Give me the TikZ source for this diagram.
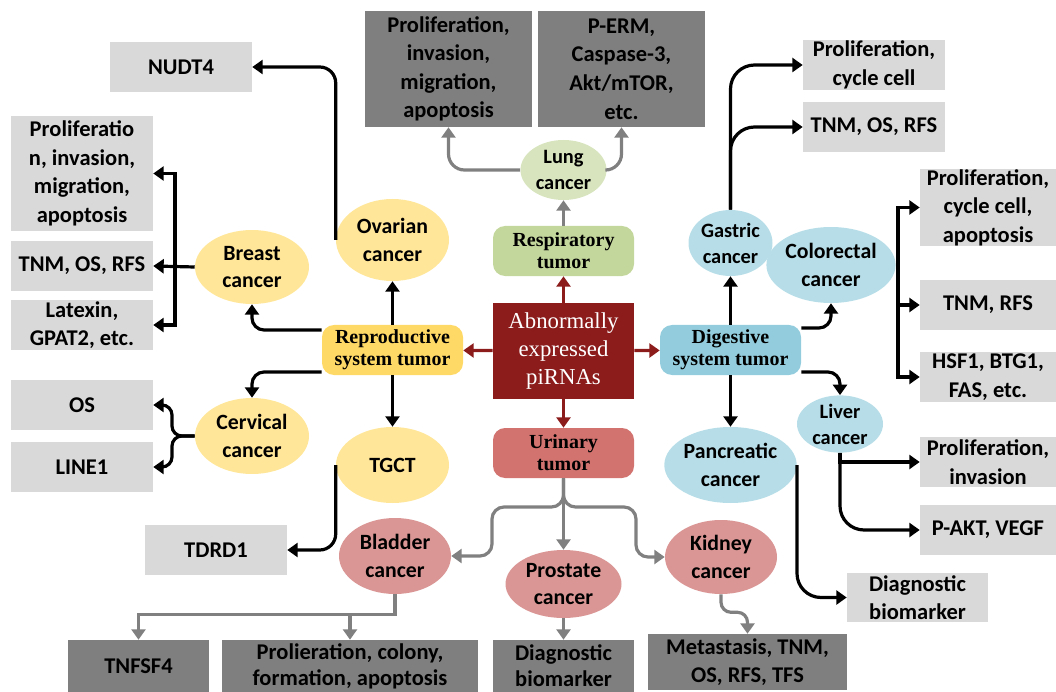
\documentclass[tikz,border=0pt]{standalone}
\usepackage{fontspec}
\setmainfont{Liberation Serif}
\newfontfamily\carlito{Carlito}
\usetikzlibrary{shapes.geometric,arrows.meta}

\definecolor{lgrey}{HTML}{D9D9D9}
\definecolor{dgrey}{HTML}{7F7F7F}
\definecolor{garr}{HTML}{808080}
\definecolor{pirna}{HTML}{8C1C1C}
\definecolor{repy}{HTML}{FFD966}
\definecolor{yell}{HTML}{FFE699}
\definecolor{resg}{HTML}{C3D69B}
\definecolor{lungg}{HTML}{D7E4BD}
\definecolor{urin}{HTML}{D27370}
\definecolor{rell}{HTML}{DA9694}
\definecolor{digb}{HTML}{93CDDD}
\definecolor{bell}{HTML}{B7DEE8}

\tikzset{
	lbox/.style={fill=lgrey, inner sep=0pt, align=center, font=\carlito\bfseries\fontsize{16}{20.3}\selectfont},
	dbox/.style={lbox, fill=dgrey},
	ell/.style={ellipse, inner sep=0pt, align=center, font=\carlito\bfseries\fontsize{15.5}{19.5}\selectfont},
	sell/.style={ell, font=\carlito\bfseries\fontsize{14.5}{18.5}\selectfont},
	tum/.style={rounded corners=3mm, inner sep=0pt, align=center, minimum width=35.25mm, minimum height=12.5mm, font=\bfseries\fontsize{14.2}{15.7}\selectfont},
	barrow/.style={draw=black, line width=0.8mm, -{Triangle[width=3.5mm,length=2.6mm]}},
	garrow/.style={barrow, draw=garr, -{Triangle[width=3.5mm,length=2.6mm,fill=garr]}},
	rarrow/.style={barrow, draw=pirna, -{Triangle[width=3.5mm,length=2.6mm,fill=pirna]}}
}

\begin{document}
\begin{tikzpicture}[x=0.25mm, y=-0.25mm]
	\useasboundingbox (0,0) rectangle (1056,692);

	% center and the four tumor groups
	\node (pi) at (563.5,351) [fill=pirna, text=white, inner sep=0pt, minimum width=35.25mm, minimum height=24mm, align=center, font=\fontsize{16.2}{20}\selectfont] {Abnormally\\expressed\\piRNAs};
	\node (resp) at (563.5,251) [tum, fill=resg] {Respiratory\\tumor};
	\node (repro) at (392.5,350) [tum, fill=repy] {Reproductive\\system tumor};
	\node (urin) at (563.5,453) [tum, fill=urin] {Urinary\\tumor};
	\node (dig) at (730.5,350) [tum, fill=digb] {Digestive\\system tumor};

	% cancers
	\node (lung) at (563.5,170) [sell, fill=lungg, minimum width=21.5mm, minimum height=15mm] {Lung\\cancer};
	\node (breast) at (252,267) [ell, fill=yell, minimum width=28.5mm, minimum height=18.5mm] {Breast\\cancer};
	\node (ovar) at (392.5,240) [ell, fill=yell, minimum width=28.25mm, minimum height=20.5mm] {Ovarian\\cancer};
	\node (cerv) at (252,436) [ell, fill=yell, minimum width=28.5mm, minimum height=19mm] {Cervical\\cancer};
	\node (tgct) at (392.5,465) [ell, fill=yell, minimum width=28.25mm, minimum height=19mm] {TGCT};
	\node (blad) at (395,556) [ell, fill=rell, minimum width=28mm, minimum height=19mm] {Bladder\\cancer};
	\node (prost) at (563.5,584) [ell, fill=rell, minimum width=29mm, minimum height=17mm] {Prostate\\cancer};
	\node (kid) at (721,557) [ell, fill=rell, minimum width=28mm, minimum height=18.5mm] {Kidney\\cancer};
	\node (gast) at (730.5,243) [sell, fill=bell, minimum width=21mm, minimum height=16.5mm] {Gastric\\cancer};
	\node (colo) at (831,265) [ell, fill=bell, minimum width=28.5mm, minimum height=19mm] {Colorectal\\cancer};
	\node (liver) at (840,424) [sell, fill=bell, minimum width=21.5mm, minimum height=14mm] {Liver\\cancer};
	\node (panc) at (730.5,465) [ell, fill=bell, minimum width=32mm, minimum height=19mm] {Pancreatic\\cancer};

	% outcomes, left
	\node (nudt) at (181,67) [lbox, minimum width=35.5mm, minimum height=12.5mm] {NUDT4};
	\node (bprol) at (82,173.5) [lbox, minimum width=35.5mm, minimum height=28.75mm] {Proliferatio\\n, invasion,\\migration,\\apoptosis};
	\node (btnm) at (82,266) [lbox, minimum width=35.5mm, minimum height=12.5mm] {TNM, OS, RFS};
	\node (blat) at (82,325) [lbox, minimum width=35.5mm, minimum height=12.5mm] {Latexin,\\GPAT2, etc.};
	\node (cos) at (82,405) [lbox, minimum width=35.5mm, minimum height=12.5mm] {OS};
	\node (cline) at (82,467) [lbox, minimum width=35.5mm, minimum height=12.5mm] {LINE1};
	\node (tdrd) at (216,550) [lbox, minimum width=35.5mm, minimum height=12.5mm] {TDRD1};

	% outcomes, top and bottom
	\node (lprol) at (448.5,69) [dbox, minimum width=41.75mm, minimum height=29mm] {Proliferation,\\invasion,\\migration,\\apoptosis};
	\node (lperm) at (621.5,69) [dbox, minimum width=41.75mm, minimum height=29mm] {P-ERM,\\Caspase-3,\\Akt/mTOR,\\etc.};
	\node (tnf) at (138.5,666) [dbox, minimum width=35.25mm, minimum height=13mm] {TNFSF4};
	\node (blprol) at (350,666) [dbox, minimum width=64mm, minimum height=13mm, font=\carlito\bfseries\fontsize{16}{18.5}\selectfont] {Prolieration, colony,\\formation, apoptosis};
	\node (prdiag) at (563.5,666) [dbox, minimum width=35.25mm, minimum height=13mm, font=\carlito\bfseries\fontsize{16}{18.5}\selectfont] {Diagnostic\\biomarker};
	\node (kmet) at (747.5,662) [dbox, minimum width=49.75mm, minimum height=14mm] {Metastasis, TNM,\\OS, RFS, TFS};

	% outcomes, right
	\node (gprol) at (874,65) [lbox, minimum width=35.5mm, minimum height=12.5mm] {Proliferation,\\cycle cell};
	\node (gtnm) at (874,127) [lbox, minimum width=35.5mm, minimum height=12.5mm] {TNM, OS, RFS};
	\node (cprol) at (988,207.5) [lbox, minimum width=34mm, minimum height=16.25mm] {Proliferation,\\cycle cell,\\apoptosis};
	\node (ctnm) at (988,305) [lbox, minimum width=34mm, minimum height=12.5mm] {TNM, RFS};
	\node (chsf) at (988,377) [lbox, minimum width=34mm, minimum height=12.5mm] {HSF1, BTG1,\\FAS, etc.};
	\node (liprol) at (988,462) [lbox, minimum width=34mm, minimum height=12.5mm] {Proliferation,\\invasion};
	\node (lipakt) at (988,530) [lbox, minimum width=34mm, minimum height=12.5mm] {P-AKT, VEGF};
	\node (padiag) at (917.5,597.5) [lbox, minimum width=35.25mm, minimum height=12.25mm] {Diagnostic\\biomarker};

	% piRNAs to groups
	\draw[rarrow] (pi) -- (resp);
	\draw[rarrow] (pi) -- (repro);
	\draw[rarrow] (pi) -- (urin);
	\draw[rarrow] (pi) -- (dig);

	% respiratory
	\draw[garrow] (resp) -- (lung);
	\draw[garrow, rounded corners=4mm] (lung.west) -| (lprol.south);
	\draw[garrow, rounded corners=4mm] (lung.east) -| (lperm.south);

	% urinary
	\draw[garrow] (urin) -- (prost);
	\draw[garrow, rounded corners=3mm] (urin.south) |- (492,507) |- (blad.east);
	\draw[garrow, rounded corners=3mm] (urin.south) |- (636,507) |- (kid.west);
	\draw[garrow] (blad.south) -- ++(0,20) -| (tnf.north);
	\draw[garrow] (blad.south) -- ++(0,20) -| (blprol.north);
	\draw[garrow] (prost) -- (prdiag);
	\draw[garrow, rounded corners=2.5mm] (kid.south) -- ++(0,18) -| (kmet.north);

	% reproductive
	\draw[barrow] (repro) -- (ovar);
	\draw[barrow] (repro) -- (tgct);
	\draw[barrow, rounded corners=3mm] ([yshift=5mm]repro.west) -| (breast.south);
	\draw[barrow, rounded corners=3mm] ([yshift=-5.5mm]repro.west) -| (cerv.north);
	\draw[barrow, rounded corners=4mm] (ovar.west) |- (nudt.east);
	\draw[barrow, rounded corners=4mm] (tgct.west) |- (tdrd.east);
	\coordinate (bbus) at (175,267);
	\draw[barrow] (breast.west) -- (btnm.east);
	\draw[barrow] (bbus) |- (bprol.east);
	\draw[barrow] (bbus) |- (blat.east);
	\draw[barrow, rounded corners=2.5mm] (cerv.west) -- (172,436) |- (cos.east);
	\draw[barrow, rounded corners=2.5mm] (cerv.west) -- (172,436) |- (cline.east);

	% digestive
	\draw[barrow] (dig) -- (gast);
	\draw[barrow] (dig) -- (panc);
	\draw[barrow, rounded corners=6mm] (gast.north) |- (gprol.west);
	\draw[barrow, rounded corners=6mm] (gast.north) |- (gtnm.west);
	\draw[barrow, rounded corners=3mm] ([yshift=5.5mm]dig.east) -| (colo.south);
	\draw[barrow, rounded corners=3mm] ([yshift=-5.5mm]dig.east) -| (liver.north);
	\coordinate (cbus) at (898,265);
	\draw[line width=0.8mm] (colo.east) -- (cbus);
	\draw[barrow] (cbus) |- (cprol.west);
	\draw[barrow] (cbus) |- (ctnm.west);
	\draw[barrow] (cbus) |- (chsf.west);
	\draw[barrow] (liver.south) |- (liprol.west);
	\draw[barrow, rounded corners=6mm] (liver.south) |- (lipakt.west);
	\draw[barrow, rounded corners=6mm] (panc.east) |- (padiag.west);
\end{tikzpicture}
\end{document}
